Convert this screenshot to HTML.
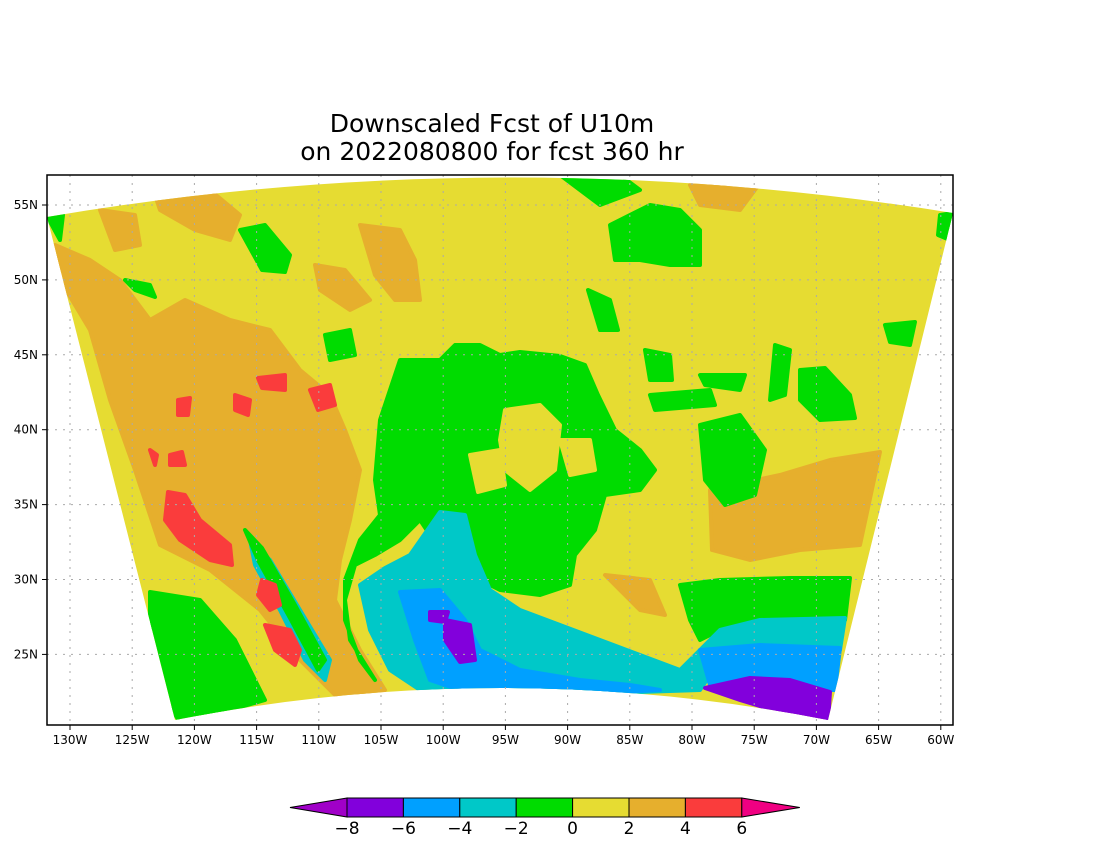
<!DOCTYPE html>
<html><head><meta charset="utf-8"><style>
body{margin:0;background:#fff;}
svg{display:block;font-family:"DejaVu Sans","Liberation Sans",sans-serif;}
</style></head><body>
<svg id="c" width="1100" height="850" viewBox="0 0 1100 850">
<defs><clipPath id="dom"><path d="M47,217 Q500,140 953,213 L828,720 Q500,656 175,720 Z"/></clipPath>
<clipPath id="frame"><rect x="47" y="175" width="906" height="550"/></clipPath></defs>
<text x="492" y="132" text-anchor="middle" font-size="25" fill="#000">Downscaled Fcst of U10m</text>
<text x="492" y="160" text-anchor="middle" font-size="25" fill="#000">on 2022080800 for fcst 360 hr</text>
<g id="map" clip-path="url(#frame)">
<g clip-path="url(#dom)" id="field"></g>
</g>
<g id="grid"></g>
<rect x="47" y="175" width="906" height="550" fill="none" stroke="#000" stroke-width="1.5"/>
<g id="axes"></g>
<g id="cbar"></g>
</svg>
<script>
const lonTicks=[-130,-125,-120,-115,-110,-105,-100,-95,-90,-85,-80,-75,-70,-65,-60];
const latTicks=[55,50,45,40,35,30,25];
const cbLevels=[-8,-6,-4,-2,0,2,4,6];
const cbColors=["#8200dc","#00a0ff","#00c8c8","#00dc00","#e6dc32","#e6af2d","#fa3c3c"];
const cbLow="#a000c8", cbHigh="#f00082";
const X=lon=>70+(lon+130)*12.44;
const Y=lat=>205+(55-lat)*14.98;
const NS="http://www.w3.org/2000/svg";
function mk(t,a,p){const e=document.createElementNS(NS,t);for(const k in a)e.setAttribute(k,a[k]);p.appendChild(e);return e;}
const C={Y:"#e6dc32",O:"#e6af2d",R:"#fa3c3c",G:"#00dc00",C:"#00c8c8",B:"#00a0ff",P:"#8200dc"};
const regions=[
["Y","40,170 960,170 960,730 40,730"],
["O","55,245 90,260 120,280 150,320 185,300 230,320 270,330 300,370 330,395 345,430 360,470 350,520 340,560 335,600 360,650 385,690 340,700 300,660 260,610 210,570 160,545 135,470 110,400 90,330 60,280"],
["O","150,180 210,190 240,215 230,240 195,230 160,210"],
["O","100,210 135,215 140,245 115,250"],
["O","360,225 400,230 415,260 420,300 395,300 375,275"],
["O","315,265 345,270 370,300 350,310 320,290"],
["O","690,185 760,183 740,210 700,205"],
["O","710,490 780,475 830,460 880,452 860,545 800,550 750,560 712,550"],
["O","605,575 650,580 665,615 640,610"],
["G","240,230 265,225 290,255 285,272 262,270"],
["G","325,335 350,330 355,355 330,360"],
["G","48,218 63,215 60,240"],
["G","125,280 150,285 155,297 135,290"],
["G","560,175 620,175 640,190 600,205"],
["G","610,225 650,205 680,210 700,230 700,265 670,265 640,260 615,260"],
["G","588,290 610,300 618,330 600,330"],
["G","645,350 670,355 672,380 650,380"],
["G","700,425 740,415 765,450 755,495 725,505 705,480"],
["G","650,395 710,390 715,405 655,410"],
["G","700,375 745,375 740,390 705,385"],
["G","800,370 825,368 850,395 855,418 820,420 800,400"],
["G","775,345 790,350 785,395 770,400"],
["G","885,325 915,322 910,345 890,342"],
["G","940,215 953,213 950,240 938,235"],
["G","380,420 395,375 400,360 440,360 455,345 480,345 500,355 520,352 560,356 585,365 598,395 615,430 640,450 655,470 640,490 605,495 595,530 575,555 570,585 540,595 500,590 470,575 440,550 420,520 400,540 375,555 355,565 345,600 350,640 375,680 360,660 345,620 345,580 360,540 380,515 375,480"],
["Y","505,410 540,405 560,425 555,470 530,490 505,470 500,440"],
["Y","470,455 500,450 505,485 478,492"],
["Y","560,440 590,440 595,470 570,475"],
["G","680,585 720,580 790,578 850,578 845,620 800,620 760,622 720,630 700,640 690,620"],
["G","150,592 200,600 235,640 255,680 265,700 230,710 180,722 165,700 150,640"],
["C","360,585 385,568 410,555 440,512 465,515 475,555 490,590 520,610 560,625 600,640 640,655 680,670 700,650 720,630 760,620 845,618 840,650 800,650 760,655 720,660 700,690 640,692 560,690 480,688 420,690 390,670 370,630"],
["B","400,592 440,590 465,620 480,650 520,670 580,680 630,685 660,690 600,693 520,692 460,690 430,680 415,640"],
["B","700,650 760,645 840,648 835,690 790,690 740,680 710,685"],
["P","705,688 750,678 790,680 830,692 828,722 780,712 740,700"],
["P","445,620 470,625 475,660 460,662 445,640"],
["P","430,612 448,612 445,622 430,620"],
["C","250,540 270,560 300,610 330,660 325,680 305,660 280,610 255,565"],
["G","245,530 262,548 295,605 325,660 318,670 290,618 258,560"],
["R","168,492 185,495 200,520 230,545 232,565 210,560 180,540 165,520"],
["R","262,580 275,585 280,605 270,610 258,595"],
["R","265,625 290,630 300,650 295,665 275,650"],
["R","258,378 285,375 285,390 262,388"],
["R","310,390 330,385 335,405 318,410"],
["R","235,395 250,400 248,415 235,410"],
["R","178,400 190,398 188,415 178,415"],
["R","170,455 182,452 185,465 170,465"],
["R","150,450 157,455 155,465"]
];
const field=document.getElementById('field');
regions.forEach((r,i)=>{const p=mk('polygon',{points:r[1],fill:C[r[0]],stroke:C[r[0]],'stroke-width':4,'stroke-linejoin':'round'},field);

});
const grid=document.getElementById('grid'),axes=document.getElementById('axes');
lonTicks.forEach(l=>{const x=X(l);
const g=mk('line',{x1:x,x2:x,y1:175,y2:725,stroke:'#aaa','stroke-dasharray':'2,6'},grid);

mk('line',{x1:x,x2:x,y1:725,y2:730,stroke:'#000'},axes);
const t=mk('text',{x:x,y:744,'text-anchor':'middle','font-size':12},axes);t.textContent=Math.abs(l)+'W';
});
latTicks.forEach(l=>{const y=Y(l);
const g=mk('line',{x1:47,x2:953,y1:y,y2:y,stroke:'#aaa','stroke-dasharray':'2,6'},grid);

mk('line',{x1:42,x2:47,y1:y,y2:y,stroke:'#000'},axes);
const t=mk('text',{x:38,y:y+4,'text-anchor':'end','font-size':12},axes);t.textContent=l+'N';
});
const cb=document.getElementById('cbar');
const CX=v=>347+(v+8)*28.2, cy=798, ch=19;
cbColors.forEach((c,i)=>{const r=mk('rect',{x:CX(cbLevels[i]),y:cy,width:CX(cbLevels[i+1])-CX(cbLevels[i]),height:ch,fill:c,stroke:'#000','stroke-width':1},cb);
});
const l0=CX(cbLevels[0]),l1=CX(cbLevels[cbLevels.length-1]);
const tl=mk('polygon',{points:`${l0},${cy} ${l0-57},${cy+ch/2} ${l0},${cy+ch}`,fill:cbLow,stroke:'#000'},cb);

const tr=mk('polygon',{points:`${l1},${cy} ${l1+58},${cy+ch/2} ${l1},${cy+ch}`,fill:cbHigh,stroke:'#000'},cb);

cbLevels.forEach(v=>{const t=mk('text',{x:CX(v),y:834,'text-anchor':'middle','font-size':17},cb);
t.textContent=v<0?'\u2212'+Math.abs(v):v;
});
</script>
</body></html>
